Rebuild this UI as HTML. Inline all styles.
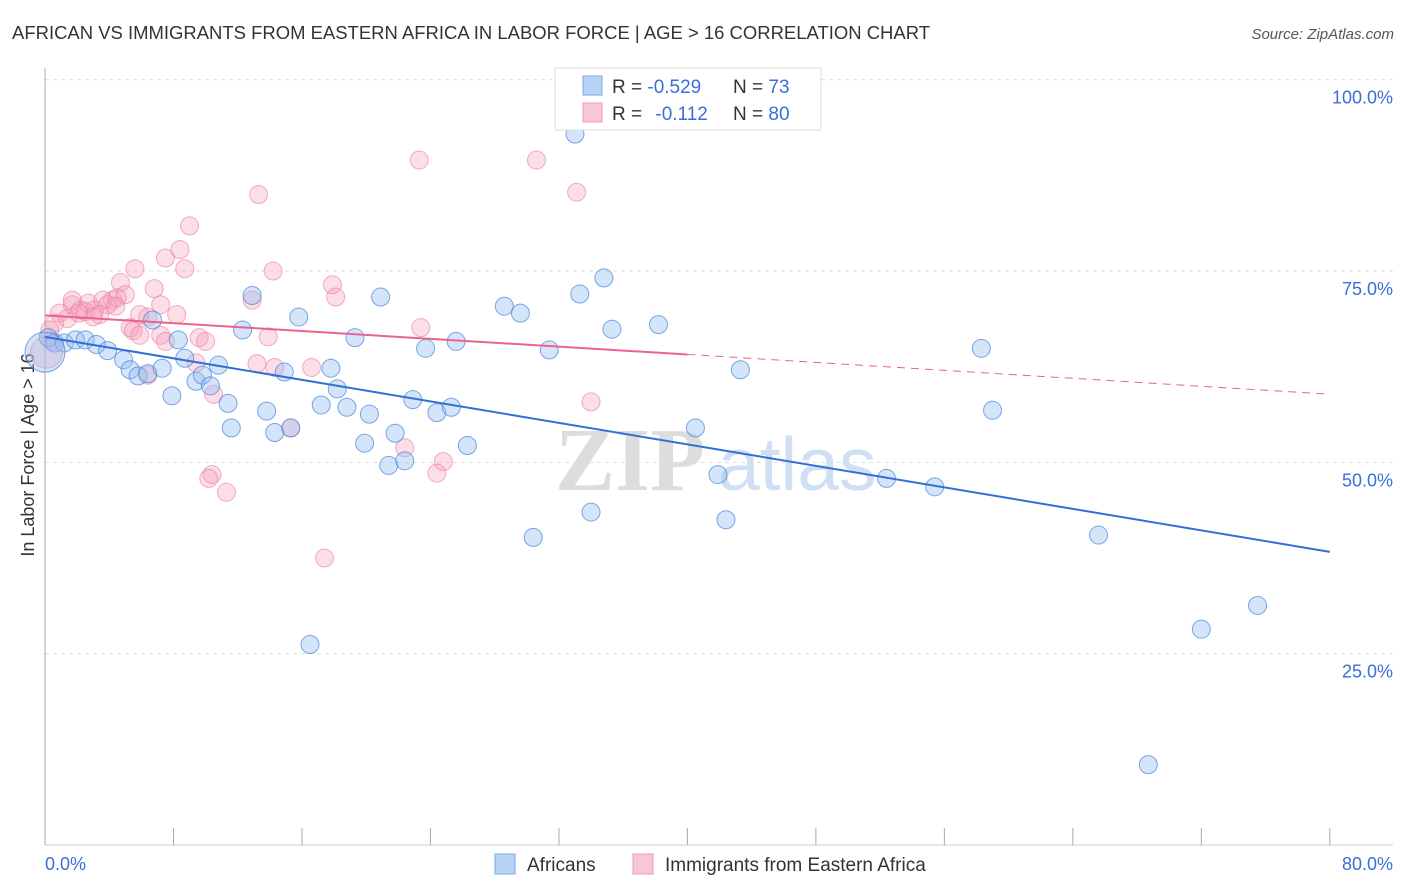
<!DOCTYPE html>
<html><head><meta charset="utf-8"><style>
body{margin:0;background:#fff;font-family:"Liberation Sans",sans-serif;}
#wrap{position:relative;width:1406px;height:892px;overflow:hidden;}
</style></head><body>
<div id="wrap">
<svg id="svg" width="1406" height="892" xmlns="http://www.w3.org/2000/svg">
<text x="12" y="39" font-size="18" fill="#333" textLength="918" lengthAdjust="spacingAndGlyphs">AFRICAN VS IMMIGRANTS FROM EASTERN AFRICA IN LABOR FORCE | AGE &gt; 16 CORRELATION CHART</text>
<text x="1394" y="39" font-size="15" fill="#555" font-style="italic" text-anchor="end">Source: ZipAtlas.com</text>
<text x="34" y="455" font-size="18" fill="#333" text-anchor="middle" transform="rotate(-90 34 455)">In Labor Force | Age &gt; 16</text>
<text x="555" y="490" font-size="90" fill="#ddd" font-family="Liberation Serif" font-weight="bold">ZIP</text>
<text x="718" y="490" font-size="75" fill="#cfe0f5">atlas</text>
<g id="grid"></g><g id="pts"></g><g id="lines"></g>
<rect x="555" y="68" width="266" height="62" fill="#fff" stroke="#ddd"/>
<rect x="583" y="76" width="19" height="19" fill="#b8d3f5" stroke="#7aa8e6"/>
<rect x="583" y="103" width="19" height="19" fill="#f9c6d4" stroke="#f09ab3"/>
<text x="612" y="93" font-size="19" fill="#333">R = <tspan fill="#3a6fd8">-0.529</tspan></text>
<text x="733" y="93" font-size="19" fill="#333">N = <tspan fill="#3a6fd8">73</tspan></text>
<text x="612" y="120" font-size="19" fill="#333">R = <tspan fill="#3a6fd8" dx="8">-0.112</tspan></text>
<text x="733" y="120" font-size="19" fill="#333">N = <tspan fill="#3a6fd8">80</tspan></text>
<text x="45" y="870" font-size="18" fill="#3a6fd8">0.0%</text>
<text x="1393" y="870" font-size="18" fill="#3a6fd8" text-anchor="end">80.0%</text>
<rect x="495" y="854" width="20" height="20" fill="#b8d3f5" stroke="#7aa8e6"/>
<text x="527" y="871" font-size="19" fill="#333">Africans</text>
<rect x="633" y="854" width="20" height="20" fill="#f9c6d4" stroke="#f09ab3"/>
<text x="665" y="871" font-size="19" fill="#333">Immigrants from Eastern Africa</text>
</svg></div>
<script>
const yTicks=[100,75,50,25];
const yTickLabels=["100.0%","75.0%","50.0%","25.0%"];
const xTicks=[0,8,16,24,32,40,48,56,64,72,80];
const blueX=[33.0,34.8,33.3,28.6,29.6,35.3,38.2,12.9,20.9,15.8,12.3,19.3,23.7,25.6,31.4,43.3,58.3,59.0,40.5,41.9,42.4,52.4,65.6,55.4,72.0,75.5,68.7,30.4,34.0,16.5,0.2,0.6,1.2,1.9,2.5,3.2,3.9,4.9,5.3,5.8,6.4,6.7,7.3,7.9,8.3,8.7,9.4,9.8,10.3,10.8,11.4,11.6,13.8,14.3,14.9,15.3,17.2,17.8,18.2,18.8,19.9,20.2,21.4,21.8,22.4,22.9,24.4,25.3,26.3,0.0];
const blueY=[92.9,74.1,72.0,70.4,69.5,67.4,68.0,71.8,71.6,69.0,67.3,66.3,64.9,65.8,64.7,62.1,64.9,56.8,54.5,48.4,42.5,47.9,40.5,46.8,28.2,31.3,10.5,40.2,43.5,26.2,66.3,65.6,65.6,66.0,66.0,65.4,64.6,63.4,62.1,61.3,61.6,68.6,62.3,58.7,66.0,63.6,60.6,61.4,60.0,62.7,57.7,54.5,56.7,53.9,61.8,54.5,57.5,62.3,59.6,57.2,52.5,56.3,49.6,53.8,50.2,58.2,56.5,57.2,52.2,64.4];
const blueR=[9,9,9,9,9,9,9,9,9,9,9,9,9,9,9,9,9,9,9,9,9,9,9,9,9,9,9,9,9,9,9,9,9,9,9,9,9,9,9,9,9,9,9,9,9,9,9,9,9,9,9,9,9,9,9,9,9,9,9,9,9,9,9,9,9,9,9,9,9,20];
const pinkX=[23.3,30.6,33.1,13.3,9.0,8.4,7.5,8.7,5.6,14.2,4.7,4.2,17.9,18.1,12.9,6.8,7.2,8.2,6.4,5.9,5.3,5.5,23.4,13.9,9.6,10.0,7.2,7.5,5.9,15.3,13.2,14.3,16.6,9.4,10.5,10.4,10.2,11.3,17.4,22.4,24.8,24.4,34.0,6.4,0.9,0.6,1.4,1.7,2.2,2.7,3.1,3.6,3.9,4.5,5.0,1.7,2.5,3.4,4.4,3.0,2.1,0.3,0.4,0.1];
const pinkY=[89.5,89.5,85.3,85.0,80.9,77.8,76.7,75.3,75.3,75.0,73.5,71.2,73.2,71.6,71.2,72.7,70.6,69.3,69.0,69.3,67.6,67.2,67.6,66.4,66.3,65.8,66.6,65.8,66.6,54.5,62.9,62.4,62.4,63.0,58.9,48.4,47.9,46.1,37.5,51.9,50.1,48.6,57.9,61.4,69.5,68.2,68.8,70.6,69.9,70.8,69.9,71.2,70.6,71.5,71.9,71.2,69.7,69.3,70.4,69.0,69.5,67.3,65.8,64.4];
const pinkR=[9,9,9,9,9,9,9,9,9,9,9,9,9,9,9,9,9,9,9,9,9,9,9,9,9,9,9,9,9,9,9,9,9,9,9,9,9,9,9,9,9,9,9,9,9,9,9,9,9,9,9,9,9,9,9,9,9,9,9,9,9,9,9,16];
const blueLine=[[0,66.4],[80,38.3]];
const pinkLine=[[0,69.2],[40,64.1],[80,58.9]];
const NS="http://www.w3.org/2000/svg";
const X=v=>45+v*16.06, Y=v=>845-v*7.653;
function mk(tag,attrs,parent){const e=document.createElementNS(NS,tag);for(const k in attrs)e.setAttribute(k,attrs[k]);parent.appendChild(e);return e;}
const grid=document.getElementById('grid');
yTicks.forEach((t,i)=>{
 const l=mk('line',{x1:45,x2:1393,y1:Y(t),y2:Y(t),stroke:'#ddd','stroke-dasharray':'4 4'},grid);
 
 
 const tx=mk('text',{x:1393,y:Y(t)+24,'font-size':18,fill:'#3a6fd8','text-anchor':'end'},grid);
 tx.textContent=yTickLabels[i];
 
 
});
const ax=mk('line',{x1:45,x2:45,y1:68,y2:845,stroke:'#aaa'},grid);


const bx=mk('line',{x1:45,x2:1393,y1:845,y2:845,stroke:'#ccc'},grid);


xTicks.forEach(t=>{const l=mk('line',{x1:X(t),x2:X(t),y1:828,y2:845,stroke:'#aaa'},grid);
 
 });
const pts=document.getElementById('pts');
pinkX.forEach((v,i)=>{const c=mk('circle',{cx:X(v),cy:Y(pinkY[i]),r:pinkR[i],fill:'rgba(244,160,185,0.35)',stroke:'rgba(236,120,155,0.6)','stroke-width':1},pts);
 
 });
blueX.forEach((v,i)=>{const c=mk('circle',{cx:X(v),cy:Y(blueY[i]),r:blueR[i],fill:'rgba(150,190,240,0.4)',stroke:'rgba(70,130,220,0.7)','stroke-width':1},pts);
 
 });
const lines=document.getElementById('lines');
const bl=mk('line',{x1:X(blueLine[0][0]),y1:Y(blueLine[0][1]),x2:X(blueLine[1][0]),y2:Y(blueLine[1][1]),stroke:'#2f6fd6','stroke-width':2},lines);


const pl=mk('line',{x1:X(pinkLine[0][0]),y1:Y(pinkLine[0][1]),x2:X(pinkLine[1][0]),y2:Y(pinkLine[1][1]),stroke:'#e8648f','stroke-width':2},lines);


const pd=mk('line',{x1:X(pinkLine[1][0]),y1:Y(pinkLine[1][1]),x2:X(pinkLine[2][0]),y2:Y(pinkLine[2][1]),stroke:'#e8648f','stroke-width':1,'stroke-dasharray':'8 6'},lines);


</script>
</body></html>
